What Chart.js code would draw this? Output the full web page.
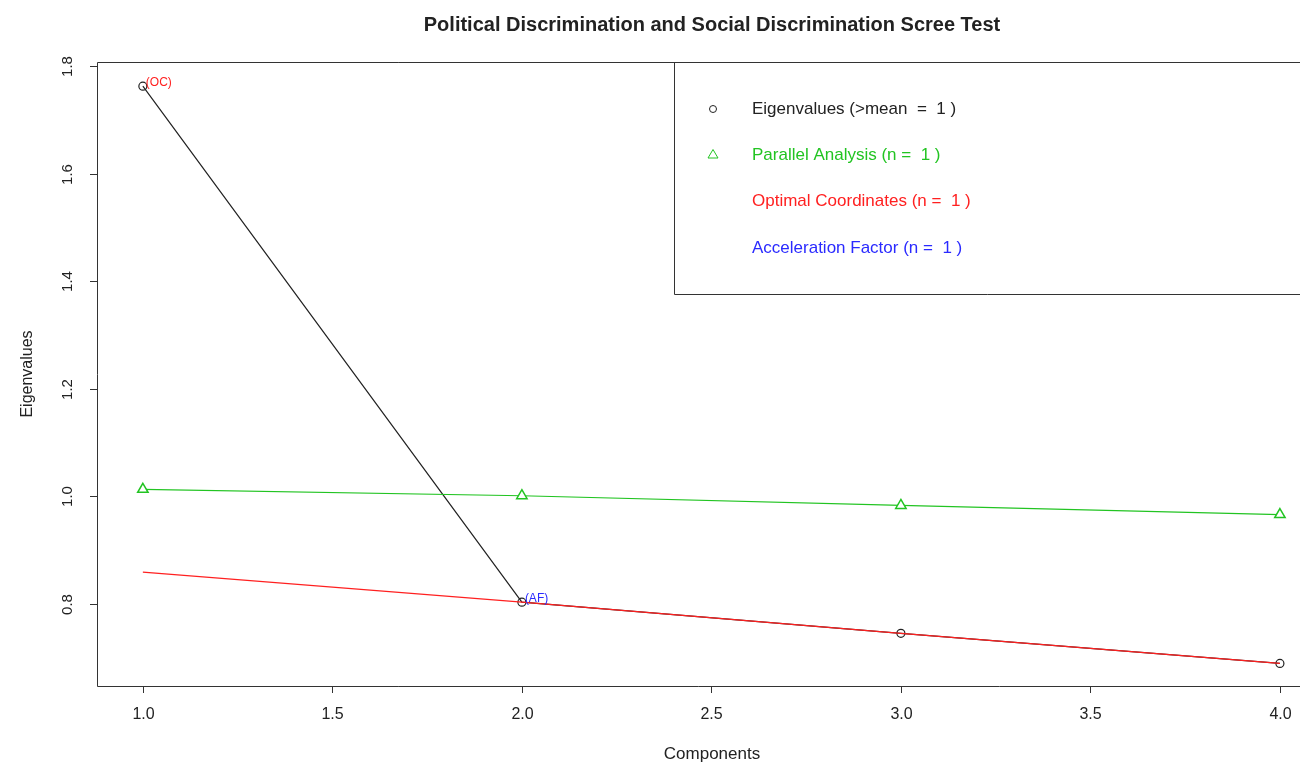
<!DOCTYPE html>
<html>
<head>
<meta charset="utf-8">
<script src="https://cdn.jsdelivr.net/npm/chart.js@4/dist/chart.umd.min.js"></script>
<style>
html,body{margin:0;padding:0;background:#fff;overflow:hidden;}
#wrap{width:1300px;height:762px;position:relative;}
</style>
</head>
<body>
<div id="wrap"><canvas id="c" width="1300" height="762"></canvas></div>
<script>
// ---- data ----
const components = [1, 2, 3, 4];
const eigenvalues = [1.763, 0.803, 0.745, 0.689];
const parallelAnalysis = [1.013, 1.001, 0.983, 0.966];
const optimalCoordinates = [0.859, 0.803, 0.745, 0.689];
const xTicks = [1.0, 1.5, 2.0, 2.5, 3.0, 3.5, 4.0];
const yTicks = [0.8, 1.0, 1.2, 1.4, 1.6, 1.8];
const legendLabels = [
  "Eigenvalues (>mean  =  1 )",
  "Parallel Analysis (n =  1 )",
  "Optimal Coordinates (n =  1 )",
  "Acceleration Factor (n =  1 )"
];
const ocIndex = 0;   // component flagged by Optimal Coordinates
const afIndex = 1;   // component flagged by Acceleration Factor
const titleText = "Political Discrimination and Social Discrimination Scree Test";

const BLACK = "#222222", GREEN = "#22c422", RED = "#ff2020", BLUE = "#2a2aff";
const FONT = '"Liberation Sans", Arial, sans-serif';

const pts = arr => components.map((c, i) => ({x: c, y: arr[i]}));

const decor = {
  id: 'decor',
  afterDatasetsDraw(chart) {
    const ctx = chart.ctx, a = chart.chartArea;
    const xs = chart.scales.x, ys = chart.scales.y;
    ctx.save();
    // box (left, top, bottom)
    ctx.strokeStyle = "#333"; ctx.lineWidth = 1;
    ctx.beginPath();
    ctx.moveTo(1300, Math.round(a.top) + 0.5);
    ctx.lineTo(Math.round(a.left) + 0.5, Math.round(a.top) + 0.5);
    ctx.lineTo(Math.round(a.left) + 0.5, Math.round(a.bottom) + 0.5);
    ctx.lineTo(1300, Math.round(a.bottom) + 0.5);
    ctx.stroke();
    // x ticks
    ctx.fillStyle = "#222";
    ctx.font = "16px " + FONT;
    ctx.textAlign = "center"; ctx.textBaseline = "middle";
    xTicks.forEach(v => {
      const px = Math.round(xs.getPixelForValue(v)) + 0.5;
      ctx.beginPath(); ctx.moveTo(px, a.bottom); ctx.lineTo(px, a.bottom + 7); ctx.stroke();
      ctx.fillText(v.toFixed(1), px, 715);
    });
    // y ticks
    ctx.font = "15px " + FONT;
    yTicks.forEach(v => {
      const py = Math.round(ys.getPixelForValue(v)) + 0.5;
      ctx.beginPath(); ctx.moveTo(a.left - 7, py); ctx.lineTo(a.left, py); ctx.stroke();
      ctx.save(); ctx.translate(68, py); ctx.rotate(-Math.PI / 2);
      ctx.fillText(v.toFixed(1), 0, 0); ctx.restore();
    });
    // axis titles
    ctx.font = "17px " + FONT;
    ctx.fillText("Components", 712, 754);
    ctx.save(); ctx.translate(28, 374); ctx.rotate(-Math.PI / 2);
    ctx.font = "16px " + FONT;
    ctx.fillText("Eigenvalues", 0, 0); ctx.restore();
    // title
    ctx.font = "bold 20px " + FONT;
    ctx.textBaseline = "alphabetic";
    ctx.fillText(titleText, 712, 31);
    ctx.textBaseline = "middle";
    // annotations
    ctx.font = "12px " + FONT; ctx.textAlign = "left";
    ctx.fillStyle = RED;
    ctx.fillText("(OC)", xs.getPixelForValue(components[ocIndex]) + 3, ys.getPixelForValue(eigenvalues[ocIndex]) - 3);
    ctx.fillStyle = BLUE;
    ctx.fillText("(AF)", xs.getPixelForValue(components[afIndex]) + 3, ys.getPixelForValue(eigenvalues[afIndex]) - 3);
    // legend box
    ctx.strokeStyle = "#333";
    ctx.beginPath();
    ctx.moveTo(1300, 62.5); ctx.lineTo(674.5, 62.5); ctx.lineTo(674.5, 294.5); ctx.lineTo(1300, 294.5);
    ctx.stroke();
    const ly = [109, 155, 201, 248];
    const lc = [BLACK, GREEN, RED, BLUE];
    ctx.font = "17px " + FONT; ctx.textBaseline = "middle";
    legendLabels.forEach((t, i) => {
      ctx.fillStyle = lc[i];
      ctx.fillText(t, 752, ly[i]);
    });
    ctx.lineWidth = 1;
    ctx.strokeStyle = BLACK;
    ctx.beginPath(); ctx.arc(713, 109, 3.5, 0, Math.PI * 2); ctx.stroke();
    ctx.strokeStyle = GREEN;
    ctx.beginPath(); ctx.moveTo(713, 149.5); ctx.lineTo(718, 158); ctx.lineTo(708, 158); ctx.closePath(); ctx.stroke();
    ctx.restore();
  }
};

new Chart(document.getElementById('c'), {
  type: 'line',
  data: {
    datasets: [
      {
        label: 'Eigenvalues', data: pts(eigenvalues), order: 3,
        borderColor: BLACK, borderWidth: 1.2, pointStyle: 'circle',
        pointRadius: 4, pointBorderColor: BLACK, pointBackgroundColor: 'rgba(0,0,0,0)',
        pointBorderWidth: 1.2, tension: 0
      },
      {
        label: 'Parallel Analysis', data: pts(parallelAnalysis), order: 2,
        borderColor: GREEN, borderWidth: 1.2, pointStyle: 'triangle',
        pointRadius: 6, pointBorderColor: GREEN, pointBackgroundColor: '#fff',
        pointBorderWidth: 1.5, tension: 0
      },
      {
        label: 'Optimal Coordinates', data: pts(optimalCoordinates), order: 1,
        borderColor: RED, borderWidth: 1.2, pointRadius: 0, tension: 0
      }
    ]
  },
  options: {
    responsive: false, animation: false,
    layout: {autoPadding: false, padding: {left: 97, right: 0, top: 62, bottom: 76}},
    plugins: {legend: {display: false}, tooltip: {enabled: false}, title: {display: false}},
    scales: {
      x: {type: 'linear', min: 0.879, max: 4.053, display: false},
      y: {type: 'linear', min: 0.647, max: 1.808, display: false}
    }
  },
  plugins: [decor]
});
</script>
</body>
</html>
